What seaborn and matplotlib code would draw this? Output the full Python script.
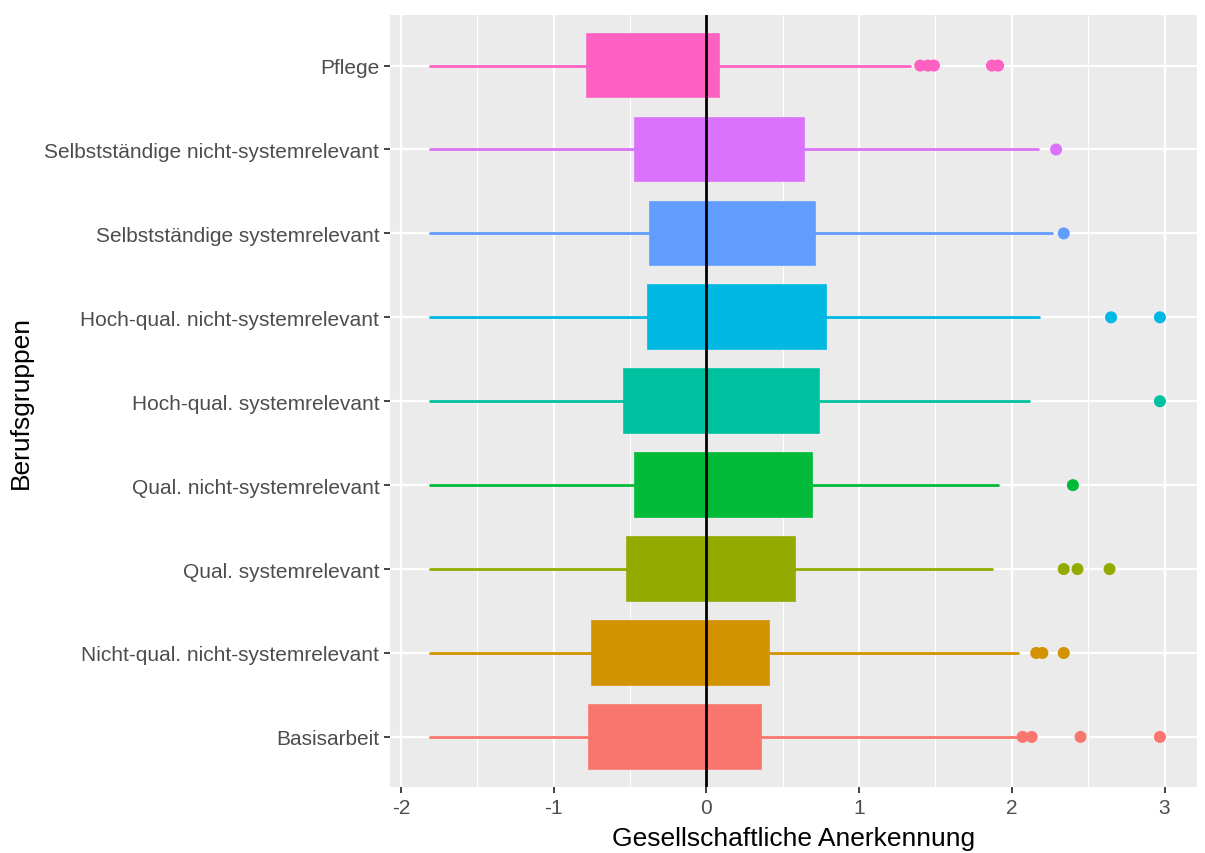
import numpy as np
import pandas as pd
import seaborn as sns
import matplotlib.pyplot as plt

# groups, bottom to top
groups = ['Basisarbeit', 'Nicht-qual. nicht-systemrelevant', 'Qual. systemrelevant',
          'Qual. nicht-systemrelevant', 'Hoch-qual. systemrelevant',
          'Hoch-qual. nicht-systemrelevant', 'Selbstständige systemrelevant',
          'Selbstständige nicht-systemrelevant', 'Pflege']
colors = ['#F8766D', '#D39200', '#93AA00', '#00BA38', '#00C19F',
          '#00B9E3', '#619CFF', '#DB72FB', '#FF61C3']

# box statistics
whislo = [-1.81, -1.81, -1.81, -1.81, -1.81, -1.81, -1.81, -1.81, -1.81]
q1 = [-0.77, -0.75, -0.52, -0.47, -0.54, -0.38, -0.37, -0.47, -0.78]
med = [-0.20, -0.15, 0.05, 0.10, 0.10, 0.20, 0.20, 0.10, -0.35]
q3 = [0.36, 0.41, 0.58, 0.69, 0.74, 0.78, 0.71, 0.64, 0.085]
whishi = [2.04, 2.04, 1.87, 1.91, 2.11, 2.18, 2.26, 2.17, 1.33]
outliers = [[2.07, 2.13, 2.45, 2.97],
            [2.16, 2.20, 2.34],
            [2.34, 2.43, 2.64],
            [2.40],
            [2.97],
            [2.65, 2.97],
            [2.34],
            [2.29],
            [1.40, 1.45, 1.49, 1.87, 1.91]]

sns.set_theme(style='darkgrid', rc={
    'axes.facecolor': '#EBEBEB',
    'grid.color': 'white',
    'axes.edgecolor': 'white',
    'xtick.bottom': True, 'ytick.left': True,
    'xtick.color': '#333333', 'ytick.color': '#333333',
    'xtick.labelcolor': '#4D4D4D', 'ytick.labelcolor': '#4D4D4D',
    'xtick.major.size': 4, 'ytick.major.size': 4,
    'xtick.major.width': 1.3, 'ytick.major.width': 1.3,
})
plt.rcParams['font.family'] = ['Liberation Sans', 'DejaVu Sans']

fig, ax = plt.subplots(figsize=(12.05, 8.54), dpi=100)
fig.subplots_adjust(left=0.324, right=0.993, top=0.981, bottom=0.077)

for i, g in enumerate(groups):
    st = [dict(label=g, whislo=whislo[i], q1=q1[i], med=med[i], q3=q3[i], whishi=whishi[i], fliers=[])]
    c = colors[i]
    ax.bxp(st, positions=[i], widths=0.76, orientation='horizontal', patch_artist=True,
           showcaps=False, showfliers=False,
           boxprops=dict(facecolor=c, edgecolor=c, linewidth=1.2),
           whiskerprops=dict(color=c, linewidth=2),
           medianprops=dict(color=c, linewidth=1.2), zorder=3)

# outlier points
rows = [(groups[i], i, v) for i in range(len(groups)) for v in outliers[i]]
out_df = pd.DataFrame(rows, columns=['group', 'pos', 'value'])
sns.scatterplot(data=out_df, x='value', y='pos', hue='group', palette=dict(zip(groups, colors)),
                s=75, linewidth=0, legend=False, ax=ax, zorder=4)

ax.axvline(0, color='black', linewidth=2, zorder=5)

ax.set_xlim(-2.07, 3.21)
ax.set_ylim(-0.6, 8.6)
ax.set_yticks(range(len(groups)))
ax.set_yticklabels(groups)
ax.set_xticks([-2, -1, 0, 1, 2, 3])
ax.set_xticklabels(['-2', '-1', '0', '1', '2', '3'])
ax.set_xticks(np.arange(-1.5, 3.0, 1.0), minor=True)
ax.grid(which='major', color='white', linewidth=1.6)
ax.grid(which='minor', axis='x', color='white', linewidth=0.8)
ax.grid(which='minor', axis='y', visible=False)
ax.tick_params(axis='both', which='major', labelsize=15, pad=4)
ax.tick_params(axis='x', which='minor', bottom=False)
for s in ax.spines.values():
    s.set_visible(False)

ax.set_xlabel('Gesellschaftliche Anerkennung', fontsize=19, color='black', labelpad=6)
ax.set_ylabel('Berufsgruppen', fontsize=19, color='black', labelpad=8)

fig.savefig('out.png', dpi=100)
